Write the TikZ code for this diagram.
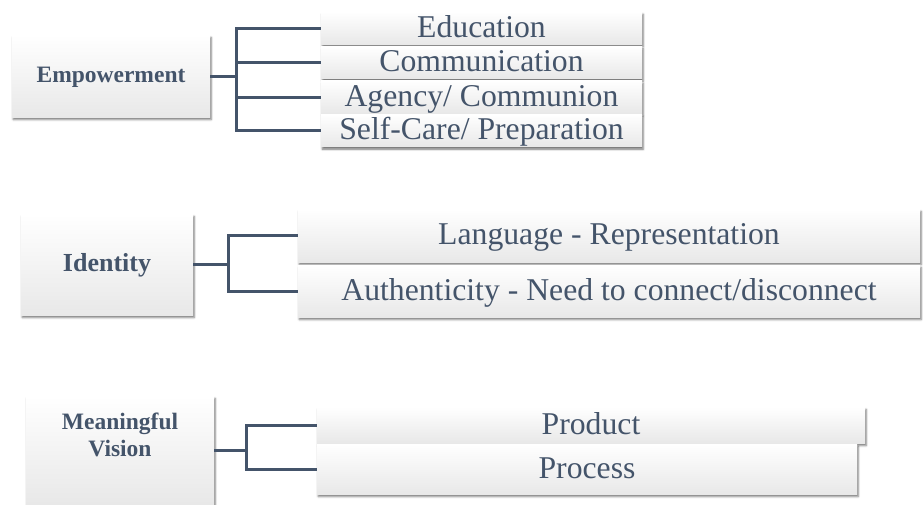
\documentclass[tikz,border=0pt]{standalone}
\usepackage{fontspec}
\setmainfont{Liberation Serif}
\usetikzlibrary{positioning}
\usetikzlibrary{shadows.blur}
\definecolor{slate}{HTML}{44546A}
\tikzset{
	% grey-white boxes
	panel/.style={shading=axis,top color=white,middle color=white,bottom color=black!9,
		draw=none,inner sep=0pt,text=slate,
		blur shadow={shadow xshift=1.2pt,shadow yshift=-2.5pt,shadow blur radius=2pt,shadow opacity=55}},
	topic/.style={panel,font=\fontsize{23.5}{27}\selectfont\bfseries,align=center,
		text height=17.6pt,text depth=4.7pt},
	item/.style={panel,font=\fontsize{31.7}{34}\selectfont,text height=25.4pt,text depth=7pt},
	% connector
	link/.style={draw=slate,line width=3pt},
}

\begin{document}
\begin{tikzpicture}[x=1pt,y=-1pt]
	\useasboundingbox (0,0) rectangle (923,504);
	
	\node[topic,minimum width=198pt,minimum height=82pt] (emp) at (111,76) {Empowerment};
	\node[item,minimum width=321pt,minimum height=30pt] (edu) at (481.5,28) {Education};
	\node[item,minimum width=321pt,minimum height=31pt] (com) at (481.5,62.5) {Communication};
	\node[item,minimum width=321pt,minimum height=32pt] (agc) at (481.5,97) {Agency/ Communion};
	\node[item,minimum width=321pt,minimum height=31pt] (slf) at (481.5,130.5) {Self-Care/ Preparation};
	\coordinate (empj) at (236,76);
	\draw[link] (emp.east) -- (empj);
	\draw[link] (empj) |- (edu.west);
	\draw[link] (empj) |- (com.west);
	\draw[link] (empj) |- (agc.west);
	\draw[link] (empj) |- (slf.west);
	
	\node[topic,minimum width=172pt,minimum height=101pt,font=\fontsize{26}{30}\selectfont\bfseries,
		text height=19.5pt,text depth=5.2pt] (idt) at (107,264.5) {Identity};
	\node[item,minimum width=622pt,minimum height=53pt] (lng) at (609,235.5) {Language - Representation};
	\node[item,minimum width=622pt,minimum height=52pt] (aut) at (609,291) {Authenticity - Need to connect/disconnect};
	\coordinate (idtj) at (228,264.5);
	\draw[link] (idt.east) -- (idtj);
	\draw[link] (idtj) |- (lng.west);
	\draw[link] (idtj) |- (aut.west);
	
	\node[topic,minimum width=188pt,minimum height=108pt] (mng) at (120,450) {Meaningful\\Vision};
	\node[item,minimum width=548pt,minimum height=36pt] (prd) at (591,425) {Product};
	\node[item,minimum width=540pt,minimum height=50pt] (prc) at (587,469) {Process};
	\coordinate (mngj) at (246,450);
	\draw[link] (mng.east) -- (mngj);
	\draw[link] (mngj) |- (prd.west);
	\draw[link] (mngj) |- (prc.west);
	
\end{tikzpicture}
\end{document}
